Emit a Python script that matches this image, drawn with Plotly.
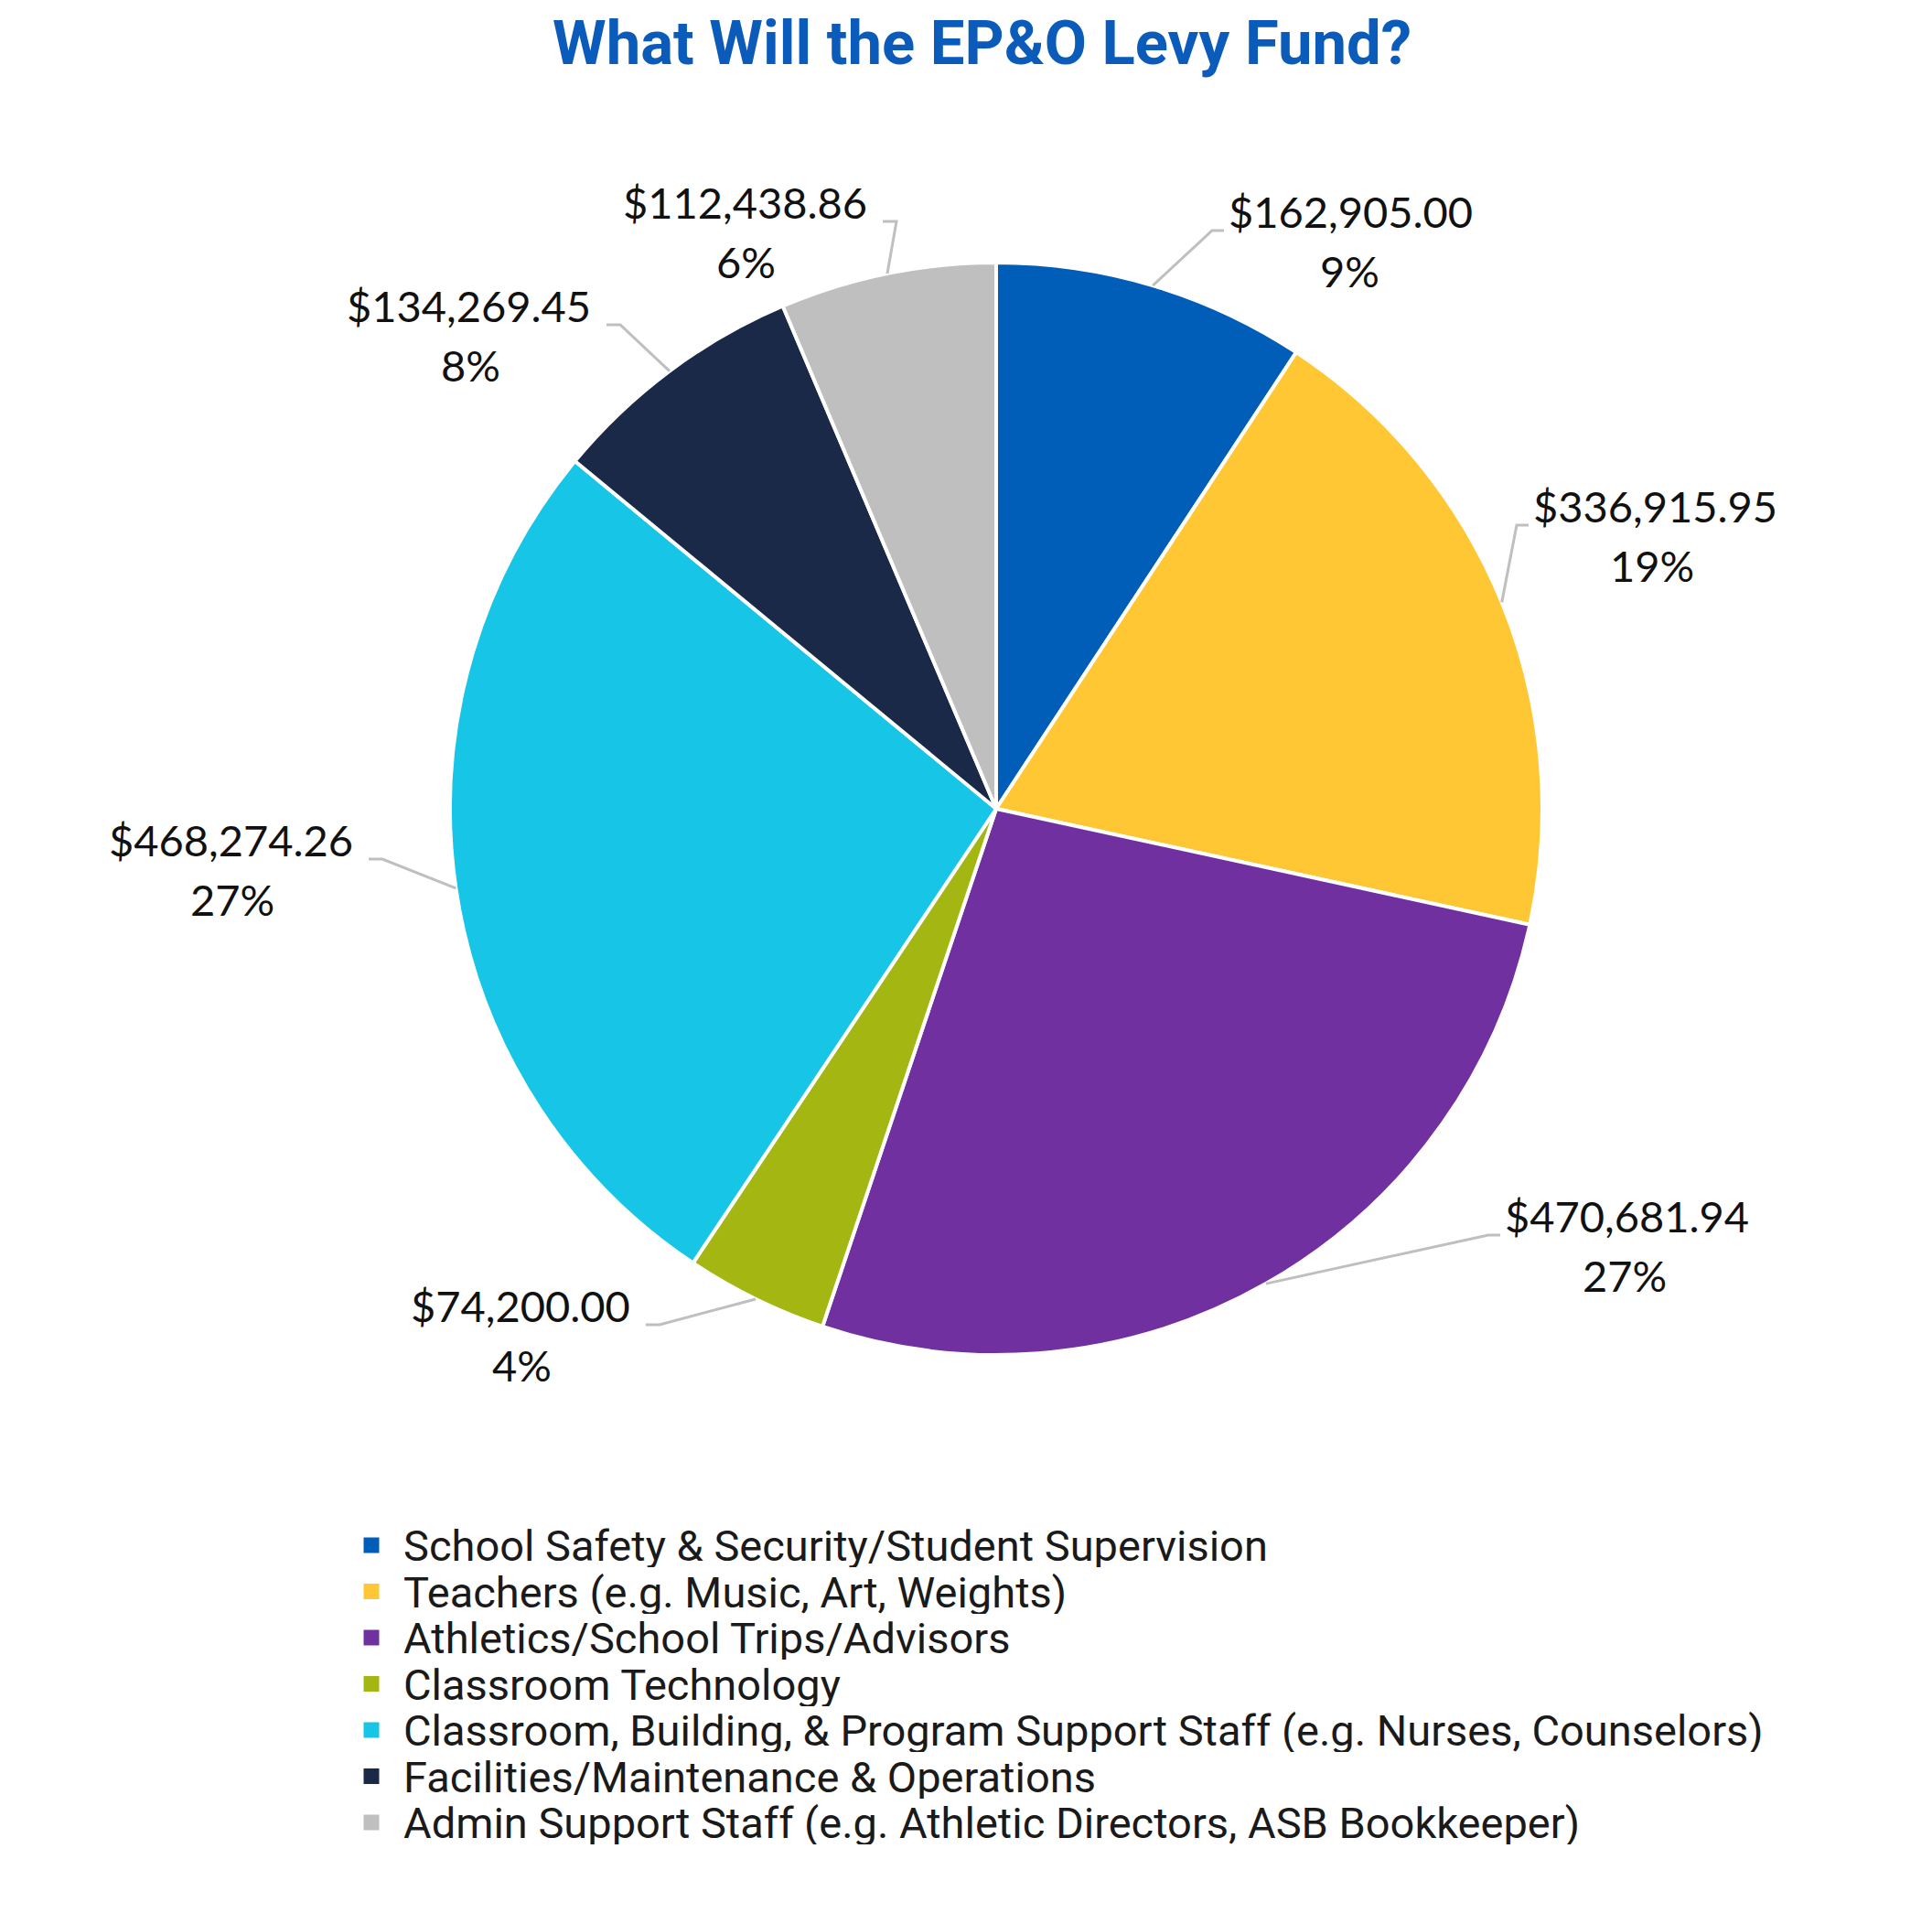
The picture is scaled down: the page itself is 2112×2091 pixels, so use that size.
import math
import plotly.graph_objects as go

W, H = 2112, 2091

categories = [
    "School Safety & Security/Student Supervision",
    "Teachers (e.g. Music, Art, Weights)",
    "Athletics/School Trips/Advisors",
    "Classroom Technology",
    "Classroom, Building, & Program Support Staff (e.g. Nurses, Counselors)",
    "Facilities/Maintenance & Operations",
    "Admin Support Staff (e.g. Athletic Directors, ASB Bookkeeper)",
]
values = [162905.00, 336915.95, 470681.94, 74200.00, 468274.26, 134269.45, 112438.86]
colors = ["#005EB8", "#FFC734", "#7030A0", "#A3B611", "#17C5E6", "#1B2948", "#BFBFBF"]

# label placement (layout, in pixels): side, text edge x, text centre x, first line y
label_layout = [
    ("right", 1344, 1478, 232),
    ("right", 1677, 1809, 554),
    ("right", 1646, 1779, 1330),
    ("left", 688, 567, 1428),
    ("left", 385, 251, 919),
    ("left", 645, 511, 335),
    ("left", 947, 812, 222),
]

CX, CY, R = 1081, 876, 597
LINE_GAP = 65


def px(x):
    return x / W


def py(y):
    return 1 - y / H


fig = go.Figure()
fig.add_trace(go.Pie(
    labels=categories,
    values=values,
    sort=False,
    direction="clockwise",
    rotation=0,
    textinfo="none",
    hoverinfo="label+value+percent",
    marker=dict(colors=colors, line=dict(color="white", width=4)),
    domain=dict(x=[px(CX - R), px(CX + R)], y=[py(CY + R), py(CY - R)]),
    showlegend=False,
))

total = sum(values)
annotations = []
shapes = []
cum = 0.0
lab_font = dict(family="Lato, Noto Sans, sans-serif", size=47, color="#111111")
for i, v in enumerate(values):
    frac = v / total
    mid = (cum + frac / 2) * 2 * math.pi
    cum += frac
    sx = CX + R * math.sin(mid)
    sy = CY - R * math.cos(mid)
    side, xe, xc, y1 = label_layout[i]
    ly = y1 + 12
    if side == "right":
        ex, hx = xe - 27, xe - 14
        xanchor, xshift = "left", -11
    else:
        ex, hx = xe + 25, xe + 10
        xanchor, xshift = "right", -5
    shapes.append(dict(
        type="path", xref="paper", yref="paper",
        path=f"M {px(sx)},{py(sy)} L {px(ex)},{py(ly)} L {px(hx)},{py(ly)}",
        line=dict(color="#BFBFBF", width=3),
    ))
    pct = round(frac * 100)
    annotations.append(dict(
        x=px(xe + xshift), y=py(y1 - 9), xref="paper", yref="paper",
        xanchor=xanchor, yanchor="middle", showarrow=False,
        text=f"${v:,.2f}", font=lab_font,
    ))
    annotations.append(dict(
        x=px(xc + xshift), y=py(y1 - 9 + LINE_GAP), xref="paper", yref="paper",
        xanchor="center", yanchor="middle", showarrow=False,
        text=f"{pct}%", font=lab_font,
    ))

# legend drawn manually
LEG_X_SQ, LEG_X_TXT, LEG_Y0, LEG_DY, SQ = 398, 431, 1681, 50.5, 17
for i, (c, col) in enumerate(zip(categories, colors)):
    yc = LEG_Y0 + i * LEG_DY
    shapes.append(dict(
        type="rect", xref="paper", yref="paper",
        x0=px(LEG_X_SQ - SQ / 2), x1=px(LEG_X_SQ + SQ / 2),
        y0=py(yc + SQ / 2), y1=py(yc - SQ / 2),
        fillcolor=col, line=dict(width=0),
    ))
    annotations.append(dict(
        x=px(LEG_X_TXT), y=py(yc), xref="paper", yref="paper",
        xanchor="left", yanchor="middle", showarrow=False, text=c,
        height=48, valign="middle",
        font=dict(family="Roboto, sans-serif", size=47, color="#1a1a1a"),
    ))

annotations.append(dict(
    x=px(1065), y=py(39), xref="paper", yref="paper",
    xanchor="center", yanchor="middle", showarrow=False,
    text="<b>What Will the EP&O Levy Fund?</b>",
    font=dict(family="Roboto, sans-serif", size=67, color="#0B5CBA"),
))

fig.update_layout(
    width=W, height=H,
    margin=dict(l=0, r=0, t=0, b=0),
    paper_bgcolor="white", plot_bgcolor="white",
    annotations=annotations, shapes=shapes,
    showlegend=False,
)

fig.write_html("out.html")
